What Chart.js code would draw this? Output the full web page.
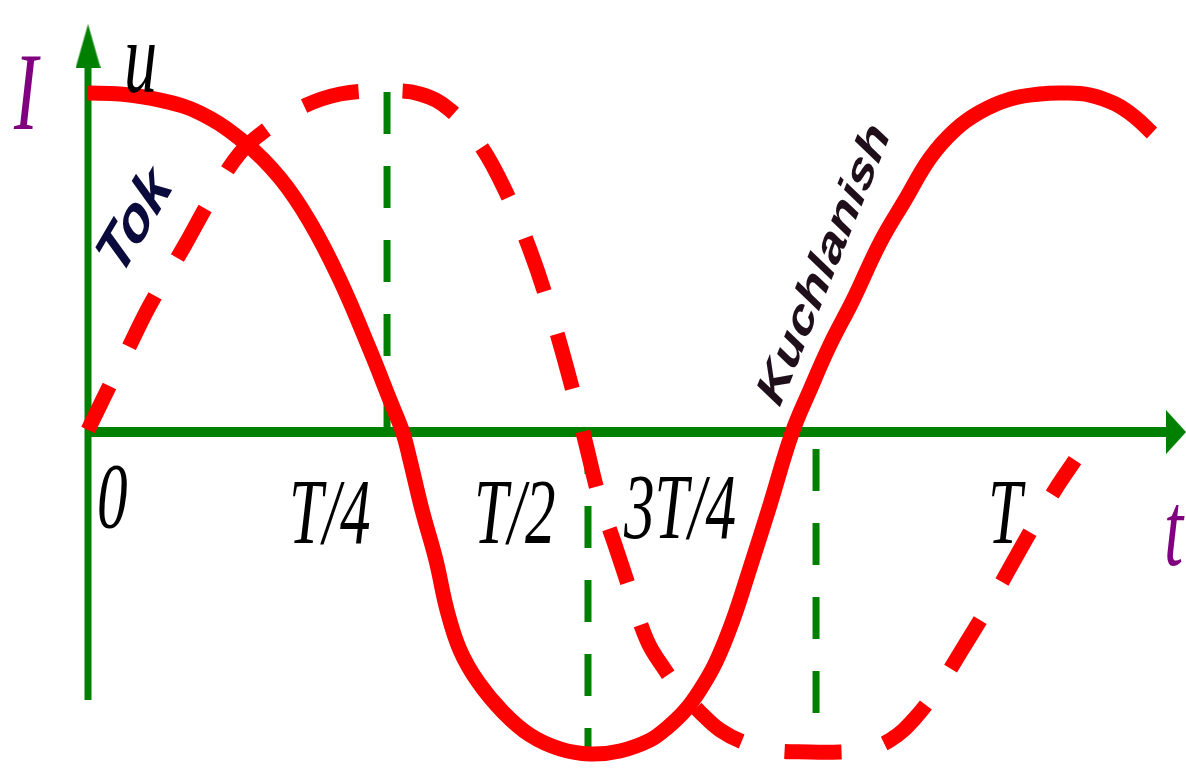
<!DOCTYPE html>
<html>
<head>
<meta charset="utf-8">
<script src="https://cdn.jsdelivr.net/npm/chart.js@4.4.1/dist/chart.umd.min.js"></script>
<style>
  html, body { margin: 0; padding: 0; background: #ffffff; }
  #wrap { width: 1186px; height: 772px; position: relative; }
</style>
</head>
<body>
<div id="wrap"><canvas id="c"></canvas></div>
<script>
// time in fractions of the period T, amplitude relative to the peak
const uTime = [0, 0.0328, 0.0738, 0.1149, 0.1610, 0.1969, 0.2277, 0.2585, 0.2892, 0.3097, 0.3231, 0.3303, 0.3426, 0.3569, 0.3682, 0.3815, 0.4000, 0.4256, 0.4533, 0.4841, 0.5149, 0.5456, 0.5764, 0.5949, 0.6128, 0.6277, 0.6441, 0.6615, 0.6790, 0.6995, 0.7221, 0.7405, 0.7610, 0.7846, 0.8123, 0.8379, 0.8636, 0.8892, 0.9149, 0.9456, 0.9764, 1.0000, 1.0277, 1.0533, 1.0738, 1.0913];
const uValues = [1.000, 0.997, 0.979, 0.941, 0.853, 0.749, 0.619, 0.448, 0.242, 0.094, -0.003, -0.083, -0.230, -0.378, -0.525, -0.643, -0.737, -0.826, -0.894, -0.935, -0.950, -0.941, -0.909, -0.870, -0.820, -0.761, -0.678, -0.555, -0.401, -0.215, -0.003, 0.124, 0.257, 0.389, 0.558, 0.684, 0.808, 0.891, 0.944, 0.982, 0.997, 1.000, 0.994, 0.968, 0.929, 0.882];

const iTime = [0, 0.0226, 0.0431, 0.0636, 0.0995, 0.1251, 0.1559, 0.1867, 0.2174, 0.2585, 0.3046, 0.3405, 0.3713, 0.4021, 0.4277, 0.4533, 0.4738, 0.4944, 0.5097, 0.5251, 0.5405, 0.5559, 0.5733, 0.5918, 0.6092, 0.6277, 0.6482, 0.6738, 0.6995, 0.7405, 0.7713, 0.7949, 0.8226, 0.8482, 0.8738, 0.8995, 0.9200, 0.9385, 0.9662, 0.9918, 1.0123];
const iValues = [0.006, 0.139, 0.257, 0.375, 0.552, 0.684, 0.823, 0.900, 0.956, 0.997, 1.006, 0.997, 0.950, 0.847, 0.714, 0.537, 0.360, 0.153, -0.024, -0.201, -0.333, -0.466, -0.614, -0.702, -0.770, -0.826, -0.879, -0.917, -0.938, -0.944, -0.944, -0.938, -0.909, -0.844, -0.746, -0.628, -0.531, -0.437, -0.295, -0.171, -0.083];

// guide lines: time and the value range they span
const guideTime = [0.3067, 0.5128, 0.7467];
const guideFrom = [1.003, 0, -0.050];
const guideTo = [0, -0.950, -0.938];

// axes extents
const axisXEnd = 1.1097;
const axisYTop = 1.110;
const axisYBottom = -0.7906;

const tickLabels = ['0', 'T/4', 'T/2', '3T/4', 'T'];
const axisNames = ['I', 'u', 't'];
const curveNames = ['Tok', 'Kuchlanish'];

function toPts(xs, ys) { return xs.map((x, i) => ({ x: x, y: ys[i] })); }

function arrowCanvas(w, h, dir) {
  const c = document.createElement('canvas');
  c.width = w; c.height = h;
  const g = c.getContext('2d');
  g.fillStyle = '#008000';
  g.beginPath();
  if (dir === 'up') { g.moveTo(w / 2, 0); g.lineTo(w, h); g.lineTo(0, h); }
  else { g.moveTo(w, h / 2); g.lineTo(0, h); g.lineTo(0, 0); }
  g.closePath(); g.fill();
  return c;
}
const upArrow = arrowCanvas(25, 44, 'up');
const rightArrow = arrowCanvas(20, 44, 'right');

const GREEN = '#008000';
const RED = '#ff0000';

const datasets = [
  { data: toPts(uTime, uValues), borderColor: RED, borderWidth: 15, pointRadius: 0, tension: 0.4, fill: false },
  { data: toPts(iTime, iValues), borderColor: RED, borderWidth: 15, borderDash: [57, 44], borderDashOffset: 8, pointRadius: 0, tension: 0.4, fill: false },
  { data: [{ x: 0, y: 0 }, { x: axisXEnd, y: 0 }], borderColor: GREEN, borderWidth: 10, pointRadius: 0 },
  { data: [{ x: 0, y: axisYBottom }, { x: 0, y: axisYTop }], borderColor: GREEN, borderWidth: 7, pointRadius: 0 },
  { data: [{ x: 0, y: 1.1386 }], pointStyle: upArrow, pointRadius: 10, showLine: false, clip: false },
  { data: [{ x: 1.1159, y: 0 }], pointStyle: rightArrow, pointRadius: 10, showLine: false, clip: false }
];
guideTime.forEach((t, i) => {
  datasets.push({ data: [{ x: t, y: guideFrom[i] }, { x: t, y: guideTo[i] }], borderColor: GREEN, borderWidth: 7, borderDash: [42, 32], pointRadius: 0 });
});

const labelPlugin = {
  id: 'labels',
  afterDatasetsDraw(chart) {
    const ctx = chart.ctx, xs = chart.scales.x, ys = chart.scales.y;
    const SX = 0.65;
    function put(text, t, v, font, color, align, baseline, rot) {
      ctx.save();
      ctx.translate(xs.getPixelForValue(t), ys.getPixelForValue(v));
      ctx.scale(SX, 1);
      if (rot) ctx.rotate(rot * Math.PI / 180);
      ctx.font = font; ctx.fillStyle = color;
      ctx.textAlign = align; ctx.textBaseline = baseline;
      ctx.fillText(text, 0, 0);
      ctx.restore();
    }
    const serif = '"Liberation Serif", "DejaVu Serif", serif';
    const tickPos = [[0.0092, -0.280], [0.2062, -0.327], [0.3959, -0.327], [0.5497, -0.313], [0.9231, -0.327]];
    tickLabels.forEach((s, i) => put(s, tickPos[i][0], tickPos[i][1], 'italic 94px ' + serif, '#000000', 'left', 'alphabetic'));
    put(axisNames[0], -0.0759, 0.894, 'italic 110px ' + serif, '#800080', 'left', 'alphabetic');
    put(axisNames[1], 0.0369, 1.003, 'italic 102px ' + serif, '#000000', 'left', 'alphabetic');
    put(axisNames[2], 1.1036, -0.392, 'italic 106px ' + serif, '#800080', 'left', 'alphabetic');
    put(curveNames[0], 0.0492, 0.619, 'bold 72px "Liberation Sans", Arial, sans-serif', '#0a0a3c', 'center', 'middle', -48);
    put(curveNames[1], 0.7559, 0.493, 'bold 60px "Liberation Sans", Arial, sans-serif', '#1e0f1a', 'center', 'middle', -58);
  }
};

new Chart(document.getElementById('c'), {
  type: 'line',
  data: { datasets: datasets },
  options: {
    responsive: true,
    maintainAspectRatio: false,
    animation: false,
    layout: { padding: 0, autoPadding: false },
    plugins: { legend: { display: false }, tooltip: { enabled: false } },
    scales: {
      x: { type: 'linear', min: -0.09026, max: 1.12615, display: false },
      y: { type: 'linear', min: -1.00295, max: 1.27434, display: false }
    }
  },
  plugins: [labelPlugin]
});
</script>
</body>
</html>
